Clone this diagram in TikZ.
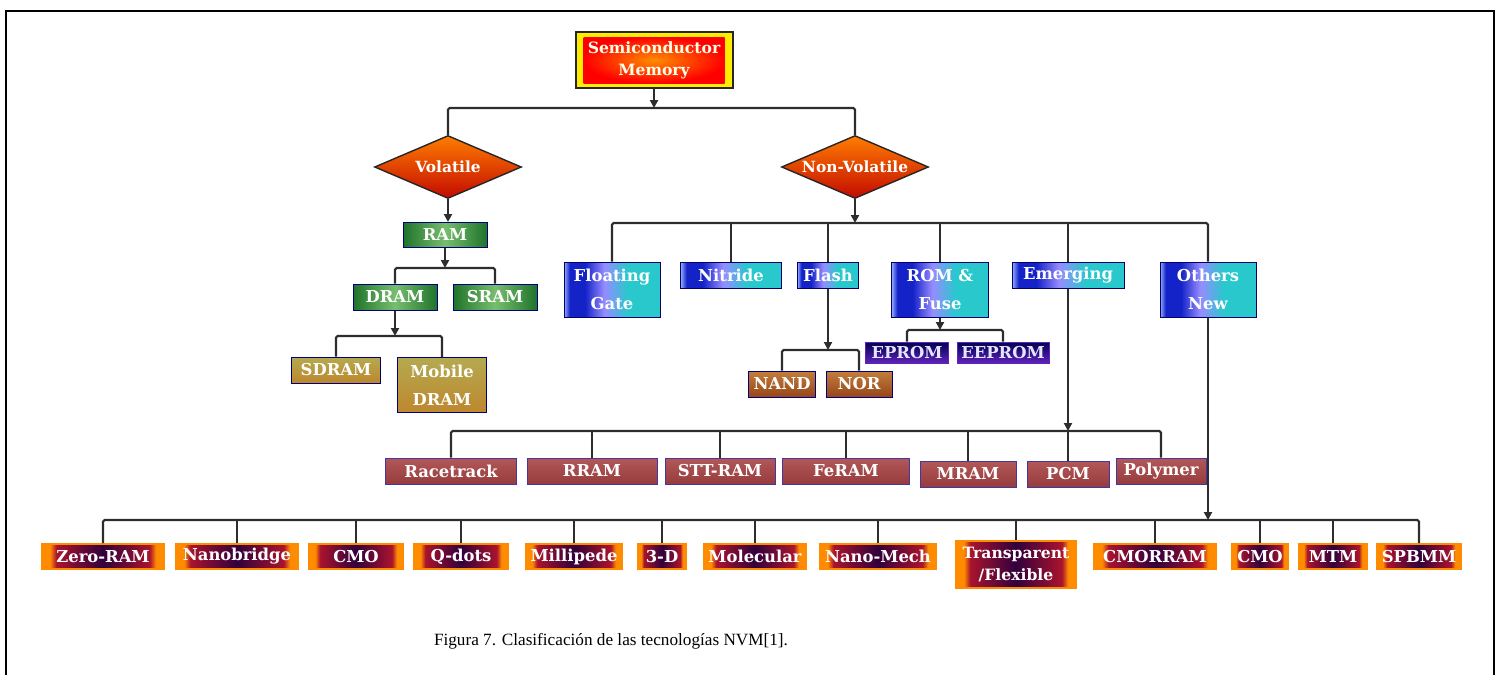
\documentclass[tikz,border=0pt]{standalone}
\usepackage{fontspec}
\setmainfont{Liberation Serif}
\newfontfamily\boxfont{DejaVu Serif}
\usetikzlibrary{shapes.geometric,arrows.meta}

% palette
\definecolor{linegray}{RGB}{45,45,45}
\definecolor{grDark}{RGB}{30,115,42}
\definecolor{grMid}{RGB}{120,190,110}
\definecolor{goldTop}{RGB}{180,170,80}
\definecolor{goldMid}{RGB}{220,165,65}
\definecolor{goldBot}{RGB}{190,135,45}
\definecolor{bLight}{RGB}{150,175,255}
\definecolor{bDark}{RGB}{20,35,200}
\definecolor{bLav}{RGB}{150,140,255}
\definecolor{bCyan}{RGB}{40,200,205}
\definecolor{navyTop}{RGB}{0,0,80}
\definecolor{navyMid}{RGB}{10,10,135}
\definecolor{navyBot}{RGB}{95,35,185}
\definecolor{brTop}{RGB}{195,125,60}
\definecolor{brBot}{RGB}{150,70,25}
\definecolor{wineTop}{RGB}{178,88,88}
\definecolor{wineBot}{RGB}{150,60,62}
\definecolor{wineEdge}{RGB}{70,55,160}
\definecolor{rowOrange}{RGB}{255,140,0}
\definecolor{rowRed}{RGB}{170,20,45}
\definecolor{rowPurple}{RGB}{50,0,60}
\definecolor{dmTop}{RGB}{255,125,0}
\definecolor{dmBot}{RGB}{195,10,0}

\pgfdeclarehorizontalshading{blueshade}{100bp}{color(0bp)=(bLight); color(25bp)=(bLight);
  color(28bp)=(bDark); color(36bp)=(bDark); color(46bp)=(bLav); color(58bp)=(bCyan);
  color(75bp)=(bCyan); color(100bp)=(bCyan)}
\pgfdeclarehorizontalshading{rowshade}{100bp}{color(0bp)=(rowOrange); color(25bp)=(rowOrange);
  color(28.5bp)=(rowOrange); color(31bp)=(rowRed); color(50bp)=(rowPurple); color(69bp)=(rowRed);
  color(71.5bp)=(rowOrange); color(75bp)=(rowOrange); color(100bp)=(rowOrange)}
\pgfdeclarehorizontalshading{greenshade}{100bp}{color(0bp)=(grDark); color(25bp)=(grDark);
  color(50bp)=(grMid); color(75bp)=(grDark); color(100bp)=(grDark)}

\begin{document}
\begin{tikzpicture}[x=0.5pt,y=-0.5pt,
  conn/.style={line width=1.1pt, draw=linegray, rounded corners=0.8pt},
  arr/.style={conn, -{Triangle[length=4pt,width=4pt]}},
  lbl/.style={font=\boxfont\bfseries\fontsize{8.2}{14}\selectfont, text=white, align=center, inner sep=0pt},
  box/.style={lbl, rectangle, line width=0.5pt},
  topbox/.style={lbl, rectangle, draw=black!85, line width=1pt,
    font=\boxfont\bfseries\fontsize{7.8}{11}\selectfont, text=white!92!yellow,
    path picture={
      \fill[yellow!95!orange] (path picture bounding box.south west) rectangle (path picture bounding box.north east);
      \shade[inner color=orange!90!yellow, outer color=red]
        ([shift={(4pt,2.5pt)}]path picture bounding box.south west)
        rectangle ([shift={(-4pt,-2.5pt)}]path picture bounding box.north east);}},
  decision/.style={lbl, diamond, draw=black!85, line width=0.7pt, top color=dmTop, bottom color=dmBot,
    minimum width=73.5pt, minimum height=31.5pt, font=\boxfont\bfseries\fontsize{7.7}{9}\selectfont},
  greenbox/.style={box, draw=blue!50!black, shading=greenshade},
  goldbox/.style={box, draw=blue!50!black, top color=goldTop, middle color=goldMid, bottom color=goldBot},
  bluebox/.style={box, draw=blue!40!black, shading=blueshade},
  navybox/.style={box, draw=navyBot, top color=navyTop, middle color=navyMid, bottom color=navyBot, text=white!90!blue},
  brownbox/.style={box, draw=blue!50!black, top color=brTop, bottom color=brBot},
  winebox/.style={box, draw=wineEdge, top color=wineTop, bottom color=wineBot, minimum height=13pt},
  rowbox/.style={box, draw=rowOrange, line width=0.8pt, shading=rowshade, minimum height=12.5pt}
]
\useasboundingbox (0,0) rectangle (1499,675);

% frame
\draw[line width=1.1pt, black] (6,675) -- (6,11) -- (1494,11) -- (1494,675);

% root and the two families
\node[topbox, minimum width=78.5pt, minimum height=28pt] (sm) at (654,60) {Semiconductor\\Memory};
\node[decision] (vol) at (448,167) {\makebox[0pt]{Volatile}};
\node[decision] (nonvol) at (855,167) {\makebox[0pt]{Non-Volatile}};

% volatile branch
\node[greenbox, minimum width=42pt, minimum height=12.5pt] (ram) at (445,235) {RAM};
\node[greenbox, minimum width=42pt, minimum height=13pt] (dram) at (395,297) {DRAM};
\node[greenbox, minimum width=42pt, minimum height=13pt] (sram) at (495,297) {SRAM};
\node[goldbox, minimum width=44.5pt, minimum height=13pt] (sdram) at (336,370) {SDRAM};
\node[goldbox, minimum width=44.5pt, minimum height=27.5pt] (mdram) at (442,385) {Mobile\\DRAM};

% non-volatile branch
\node[bluebox, minimum width=48pt, minimum height=27.5pt] (fg) at (612,289.5) {Floating\\Gate};
\node[bluebox, minimum width=50.5pt, minimum height=13pt] (nit) at (731,275) {Nitride};
\node[bluebox, minimum width=30.5pt, minimum height=13pt] (flash) at (828,275) {Flash};
\node[bluebox, minimum width=48.5pt, minimum height=27.5pt] (rom) at (940,289.5) {ROM \&\\Fuse};
\node[bluebox, minimum width=56pt, minimum height=13pt] (emer) at (1068,275) {Emerging};
\node[bluebox, minimum width=48pt, minimum height=27.5pt] (oth) at (1208,289.5) {Others\\New};

\node[brownbox, minimum width=33.5pt, minimum height=13pt] (nand) at (782,384) {NAND};
\node[brownbox, minimum width=33pt, minimum height=13pt] (nor) at (859,384) {NOR};
\node[navybox, minimum width=41.5pt, minimum height=10.5pt] (eprom) at (907,352.5) {EPROM};
\node[navybox, minimum width=46pt, minimum height=10.5pt] (eeprom) at (1003,352.5) {EEPROM};

% emerging technologies
\node[winebox, minimum width=65.5pt] (race) at (451,471) {Racetrack};
\node[winebox, minimum width=65pt] (rram) at (592,471) {RRAM};
\node[winebox, minimum width=55pt] (stt) at (720,471) {STT-RAM};
\node[winebox, minimum width=63.5pt] (feram) at (846,471) {FeRAM};
\node[winebox, minimum width=48pt] (mram) at (968,474) {MRAM};
\node[winebox, minimum width=41pt] (pcm) at (1068,474) {PCM};
\node[winebox, minimum width=45pt] (poly) at (1161,471) {Polymer};

% other new technologies
\node[rowbox, minimum width=61.5pt] (zr) at (103,556.5) {Zero-RAM};
\node[rowbox, minimum width=61.5pt] (nb) at (237,556.5) {Nanobridge};
\node[rowbox, minimum width=47.5pt] (cmoa) at (356,556.5) {CMO};
\node[rowbox, minimum width=47pt] (qd) at (461,556.5) {Q-dots};
\node[rowbox, minimum width=48.5pt] (mp) at (574,556.5) {Millipede};
\node[rowbox, minimum width=24pt] (td) at (662,556.5) {3-D};
\node[rowbox, minimum width=51pt] (mol) at (755,556.5) {Molecular};
\node[rowbox, minimum width=58.5pt] (nm) at (878,556.5) {Nano-Mech};
\node[rowbox, minimum width=60.5pt, minimum height=23.5pt, font=\boxfont\bfseries\fontsize{7.8}{11}\selectfont] (tf) at (1016,564.5) {Transparent\\/Flexible};
\node[rowbox, minimum width=61.5pt] (cmorram) at (1155,556.5) {CMORRAM};
\node[rowbox, minimum width=28pt] (cmob) at (1260,556.5) {CMO};
\node[rowbox, minimum width=34pt] (mtm) at (1333,556.5) {MTM};
\node[rowbox, minimum width=42pt] (spb) at (1419,556.5) {SPBMM};

% bus junctions
\coordinate (b0) at (654,108);
\coordinate (b1) at (445,268);
\coordinate (b2) at (395,336);
\coordinate (b3) at (855,223);
\coordinate (b4) at (828,350);
\coordinate (b5) at (940,330);
\coordinate (b6) at (1068,431);
\coordinate (b7) at (1208,520);

% connectors
\draw[arr] (sm.south) -- (b0);
\draw[conn] (vol.north) |- (b0) -| (nonvol.north);

\draw[arr] (vol.south) -- (vol.south |- ram.north);
\draw[arr] (ram.south) -- (b1);
\draw[conn] (dram.north) |- (b1) -| (sram.north);
\draw[arr] (dram.south) -- (b2);
\draw[conn] (sdram.north) |- (b2) -| (mdram.north);

\draw[arr] (nonvol.south) -- (b3);
\draw[conn] (fg.north) |- (b3) -| (oth.north);
\foreach \n in {nit,flash,rom,emer} \draw[conn] (\n.north) -- (\n.north |- b3);

\draw[arr] (flash.south) -- (b4);
\draw[conn] (nand.north) |- (b4) -| (nor.north);
\draw[arr] (rom.south) -- (b5);
\draw[conn] (eprom.north) |- (b5) -| (eeprom.north);

\draw[arr] (emer.south) -- (b6);
\draw[conn] (race.north) |- (b6) -| (poly.north);
\foreach \n in {rram,stt,feram,mram,pcm} \draw[conn] (\n.north) -- (\n.north |- b6);

\draw[arr] (oth.south) -- (b7);
\draw[conn] (zr.north) |- (b7) -| (spb.north);
\foreach \n in {nb,cmoa,qd,mp,td,mol,nm,tf,cmorram,cmob,mtm} \draw[conn] (\n.north) -- (\n.north |- b7);

% caption
\node[font=\fontsize{8.6}{10}\selectfont, inner sep=0pt] (cap) at (611,641) {Figura 7. Clasificación de las tecnologías NVM[1].};
\end{tikzpicture}
\end{document}
